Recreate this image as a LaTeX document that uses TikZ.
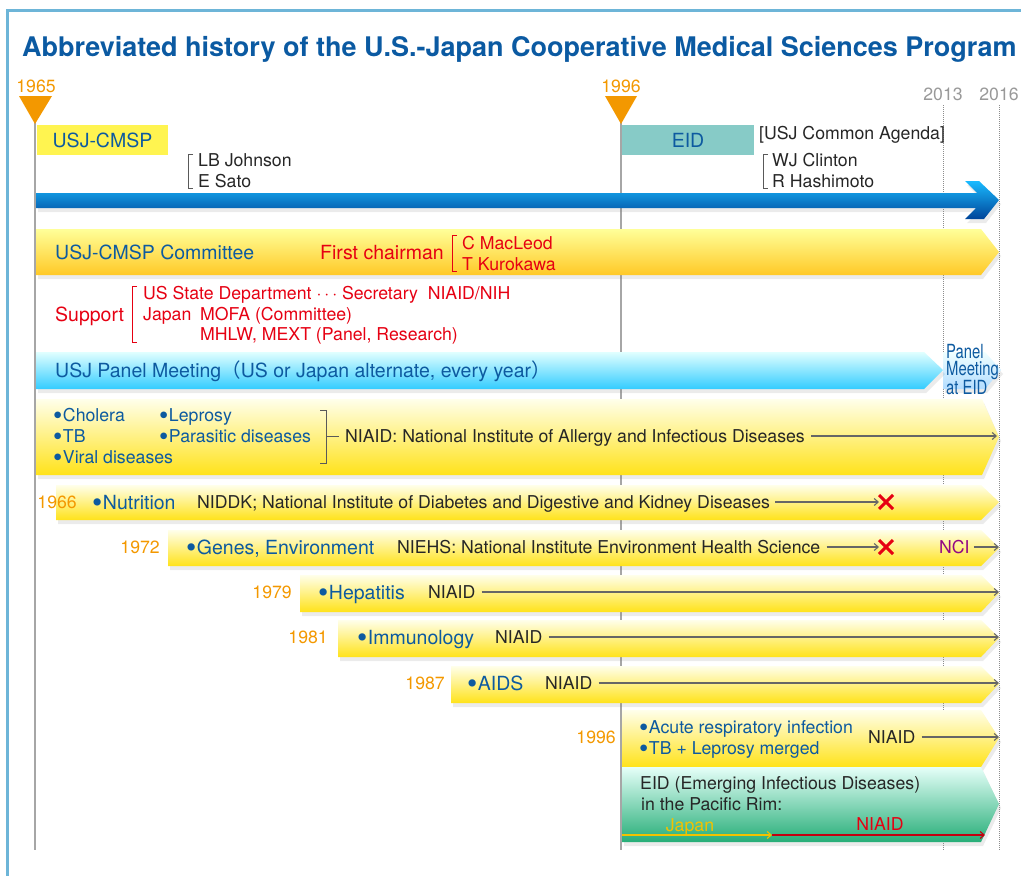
\documentclass[tikz,border=0pt]{standalone}
\usepackage{fontspec}
\setmainfont{TeX Gyre Heros}
\newfontfamily\cjk{Noto Sans CJK JP}
\newfontfamily\narrowfont[FakeStretch=0.76]{TeX Gyre Heros}
\usetikzlibrary{positioning,shadows,shapes.misc,arrows.meta}
\definecolor{frameblue}{HTML}{6DB5D8}
\definecolor{titleblue}{HTML}{0B5AA2}
\definecolor{textblue}{HTML}{0D5AA0}
\definecolor{yearorange}{HTML}{F39800}
\definecolor{markred}{HTML}{E60012}
\definecolor{ncipurple}{HTML}{920783}
\definecolor{cmspyellow}{HTML}{FFF450}
\definecolor{eidteal}{HTML}{87CBC7}
\definecolor{japanyellow}{HTML}{F2C200}
\newcommand\dotitem{\smash{\raisebox{-0.2em}{\scalebox{1.5}{\textbullet}}}\kern0.5pt}
\tikzset{
  big text/.style={
    inner sep=0pt,
    text height=14pt,
    text depth=0pt,
    font=\fontsize{19.5}{22}\selectfont,
  },
  small text/.style={
    inner sep=0pt,
    text height=12.7pt,
    text depth=0pt,
    font=\fontsize{17.7}{21}\selectfont,
  },
  row label/.style={big text, anchor=west, text=textblue},
  item/.style={small text, anchor=west, text=textblue},
  year/.style={small text, anchor=east, text=yearorange},
  plain/.style={small text, anchor=west, text=black!85},
  red note/.style={small text, anchor=west, text=markred},
  bar shadow/.style={
    drop shadow={opacity=0.16, shadow xshift=2pt, shadow yshift=-4pt},
  },
  yellow bar/.style={bar shadow, top color=yellow!8, bottom color=yellow!75!orange!90},
  to end/.style={
    draw=black!60, line width=1.1pt,
    -{Straight Barb[length=4pt,width=7pt]},
  },
  cross/.style={
    cross out, draw=markred, line width=3pt,
    minimum size=11pt, inner sep=0pt,
  },
  bracket/.style={draw=black!65, line width=0.8pt},
}

\begin{document}
\begin{tikzpicture}[x=1pt, y=-1pt]
  \useasboundingbox (0,0) rectangle (1021,876);
  % frame and title
  \draw [frameblue, line width=3pt] (7,876) -- (7,10) -- (1021,10);
  \node [anchor=west, inner sep=0pt, text height=19.5pt, text depth=0pt,
         text=titleblue, font=\fontsize{27}{30}\selectfont\bfseries] (title) at (22,47)
    {Abbreviated history of the U.S.-Japan Cooperative Medical Sciences Program};

  % time lines
  \draw [black!35, line width=2pt] (35,122) -- (35,850);
  \draw [black!35, line width=2pt] (621,122) -- (621,850);
  \draw [black!45, densely dotted, line width=1pt] (943,105) -- (943,850);
  \draw [black!45, densely dotted, line width=1pt] (999,105) -- (999,850);
  \fill [yearorange] (19,96) -- (52,96) -- (35,124) -- cycle;
  \fill [yearorange] (605,96) -- (637,96) -- (621,124) -- cycle;
  \node [small text, text=yearorange] (y1965) at (36,86) {1965};
  \node [small text, text=yearorange] (y1996) at (621,86) {1996};
  \node [small text, text=black!40] (y2013) at (943,94) {2013};
  \node [small text, text=black!40] (y2016) at (999,94) {2016};

  % top boxes
  \node [big text, fill=cmspyellow, text=textblue, minimum width=131pt, minimum height=30pt] (cmsp) at (102.5,140) {USJ-CMSP};
  \node [big text, fill=eidteal, text=textblue, minimum width=132pt, minimum height=30pt] (eidbox) at (688,140) {EID};
  \node [plain] (agenda) at (759,133) {[USJ Common Agenda]};
  \node [plain] (lbj) at (198,160) {LB Johnson};
  \node [plain] (sato) at (198,181) {E Sato};
  \node [plain] (wjc) at (772,160) {WJ Clinton};
  \node [plain] (hashi) at (772,181) {R Hashimoto};
  \draw [bracket] (193,154) -- (188,154) -- (188,188) -- (193,188);
  \draw [bracket] (768,154) -- (763,154) -- (763,188) -- (768,188);

  % main arrow
  \shade [bar shadow, top color=cyan!70!blue!90, bottom color=blue!55!cyan!60!black]
    (36,193) -- (977,193) -- (965,181) -- (979,181) -- (999,200) -- (984,219)
    -- (965,219) -- (976,208) -- (36,208) -- cycle;

  % committee
  \shade [bar shadow, top color=yellow!40, bottom color=orange!50!yellow!85]
    (36,229) -- (981,229) -- (999,252) -- (981,275) -- (36,275) -- cycle;
  \node [row label] (cmte) at (55,252) {USJ-CMSP Committee};
  \node [big text, anchor=west, text=markred] (chair) at (320,252) {First chairman};
  \draw [markred, line width=0.8pt] (457,235) -- (452,235) -- (452,271) -- (457,271);
  \node [red note] (macleod) at (462,243) {C MacLeod};
  \node [red note] (kuro) at (462,264) {T Kurokawa};

  % support
  \node [big text, anchor=west, text=markred] (support) at (55,314) {Support};
  \draw [markred, line width=0.8pt] (137,286) -- (132,286) -- (132,342) -- (137,342);
  \node [red note] (usdept) at (143,293) {US State Department \textperiodcentered\,\textperiodcentered\,\textperiodcentered\ Secretary\ \ NIAID/NIH};
  \node [red note] (japan) at (143,314) {Japan};
  \node [red note] (mofa) at (200,314) {MOFA (Committee)};
  \node [red note] (mhlw) at (200,334) {MHLW, MEXT (Panel, Research)};

  % panel meeting
  \shade [bar shadow, top color=cyan!6, bottom color=cyan!55!blue!30!white]
    (943,352) -- (985,352) -- (1001,370) -- (985,389) -- (943,389) -- cycle;
  \shade [bar shadow, top color=cyan!12!white, bottom color=cyan!75!blue!80]
    (36,352) -- (924,352) -- (943,370) -- (924,389) -- (36,389) -- cycle;
  \node [row label] (panel) at (55,370) {USJ Panel Meeting{\cjk （}US or Japan alternate, every year{\cjk ）}};
  \node [anchor=west, inner sep=0pt, align=left, text=textblue,
         font=\narrowfont\fontsize{19.5}{16.5}\selectfont] (paneleid) at (946,370) {Panel\\Meeting\\at EID};

  % NIAID
  \shade [yellow bar] (36,399) -- (982,399) -- (999,437) -- (982,475) -- (36,475) -- cycle;
  \node [item] (cholera) at (53,415) {\dotitem Cholera};
  \node [item] (tb) at (53,436) {\dotitem TB};
  \node [item] (viral) at (53,457) {\dotitem Viral diseases};
  \node [item] (leprosy) at (159,415) {\dotitem Leprosy};
  \node [item] (parasitic) at (159,436) {\dotitem Parasitic diseases};
  \draw [bracket] (320,410) -- (326,410) -- (326,463) -- (320,463);
  \draw [bracket] (326,436) -- (339,436);
  \node [plain] (niaid) at (345,436) {NIAID: National Institute of Allergy and Infectious Diseases};
  \coordinate (niaidend) at (997,436);
  \draw [to end, shorten <=6pt] (niaid.east) -- (niaidend);

  % 1966
  \shade [yellow bar] (56,485) -- (981,485) -- (999,502) -- (981,520) -- (56,520) -- cycle;
  \node [year] (y1966) at (77,502) {1966};
  \node [row label] (nutrition) at (92,502) {\dotitem Nutrition};
  \node [plain] (niddk) at (197,502) {NIDDK; National Institute of Diabetes and Digestive and Kidney Diseases};
  \node [cross] (stopniddk) at (886,502) {};
  \draw [to end, shorten <=5pt] (niddk.east) -- (stopniddk.west);

  % 1972
  \shade [yellow bar] (168,530) -- (981,530) -- (999,548) -- (981,566) -- (168,566) -- cycle;
  \node [year] (y1972) at (160,547) {1972};
  \node [row label] (genes) at (186,547) {\dotitem Genes, Environment};
  \node [plain] (niehs) at (397,547) {NIEHS: National Institute Environment Health Science};
  \node [cross] (stopniehs) at (886,547) {};
  \draw [to end, shorten <=6pt] (niehs.east) -- (stopniehs.west);
  \node [plain, text=ncipurple] (nci) at (939,547) {NCI};
  \coordinate (nciend) at (999,547);
  \draw [to end, shorten <=4pt] (nci.east) -- (nciend);

  % 1979
  \shade [yellow bar] (300,575) -- (981,575) -- (999,593) -- (981,612) -- (300,612) -- cycle;
  \node [year] (y1979) at (292,592) {1979};
  \node [row label] (hepatitis) at (318,592) {\dotitem Hepatitis};
  \node [plain] (niaidhep) at (428,592) {NIAID};
  \coordinate (hepend) at (999,592);
  \draw [to end, shorten <=6pt] (niaidhep.east) -- (hepend);

  % 1981
  \shade [yellow bar] (338,620) -- (981,620) -- (999,638) -- (981,657) -- (338,657) -- cycle;
  \node [year] (y1981) at (328,637) {1981};
  \node [row label] (immuno) at (357,637) {\dotitem Immunology};
  \node [plain] (niaidimm) at (495,637) {NIAID};
  \coordinate (immend) at (999,637);
  \draw [to end, shorten <=6pt] (niaidimm.east) -- (immend);

  % 1987
  \shade [yellow bar] (451,666) -- (981,666) -- (999,684) -- (981,703) -- (451,703) -- cycle;
  \node [year] (y1987) at (445,683) {1987};
  \node [row label] (aids) at (467,683) {\dotitem AIDS};
  \node [plain] (niaidaids) at (545,683) {NIAID};
  \coordinate (aidsend) at (999,683);
  \draw [to end, shorten <=6pt] (niaidaids.east) -- (aidsend);

  % 1996
  \shade [yellow bar] (622,710) -- (981,710) -- (999,738) -- (981,767) -- (622,767) -- cycle;
  \node [year] (y1996row) at (616,737) {1996};
  \node [item] (acute) at (639,727) {\dotitem Acute respiratory infection};
  \node [item] (merged) at (639,748) {\dotitem TB + Leprosy merged};
  \node [plain] (niaid96) at (868,737) {NIAID};
  \coordinate (end96) at (999,737);
  \draw [to end, shorten <=6pt] (niaid96.east) -- (end96);

  % EID
  \shade [bar shadow, top color=green!25!cyan!10!white, bottom color=teal!75!green!85]
    (622,767) -- (981,767) -- (999,804) -- (981,842) -- (622,842) -- cycle;
  \node [plain] (eid) at (640,783) {EID (Emerging Infectious Diseases)};
  \node [plain] (rim) at (641,804) {in the Pacific Rim:};
  \node [small text, text=japanyellow] (japanlbl) at (690,825) {Japan};
  \node [small text, text=markred] (niaidlbl) at (880,824) {NIAID};
  \coordinate (eidstart) at (622,835);
  \coordinate (eidmid) at (772,835);
  \coordinate (eidend) at (985,835);
  \draw [to end, draw=japanyellow] (eidstart) -- (eidmid);
  \draw [to end, draw=markred!85!black] (eidmid) -- (eidend);
\end{tikzpicture}
\end{document}
